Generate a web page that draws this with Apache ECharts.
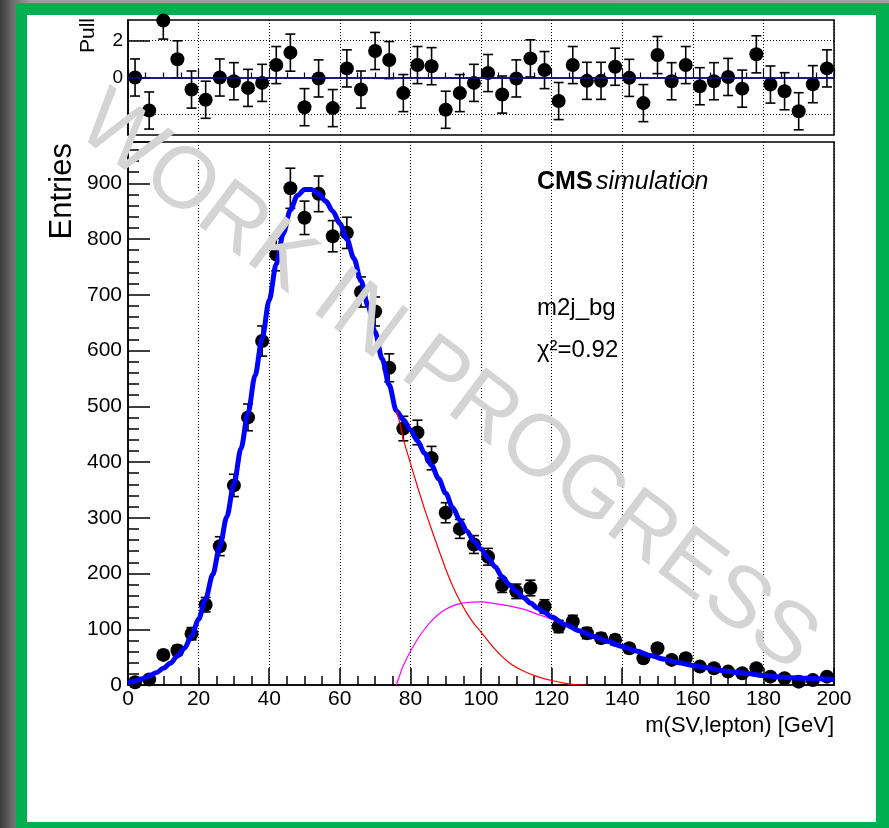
<!DOCTYPE html>
<html>
<head>
<meta charset="utf-8">
<script src="https://cdn.jsdelivr.net/npm/echarts@6/dist/echarts.min.js"></script>
<style>
html,body{margin:0;padding:0;width:889px;height:828px;overflow:hidden;
  background:linear-gradient(to right,#3a3a3a 0px,#6a6a6a 12px,#9c9c9c 30px,#a0a0a0 100%);}
#frame{position:absolute;left:16px;top:3px;width:880px;height:840px;background:#00b050;}
#inner{position:absolute;left:27px;top:15px;width:849px;height:807px;background:#ffffff;}
#chart{position:absolute;left:0;top:0;width:889px;height:828px;}
</style>
</head>
<body>
<div id="frame"></div>
<div id="inner"></div>
<div id="chart"></div>
<script>
// ---- data ----
const binCenters = [2,6,10,14,18,22,26,30,34,38,42,46,50,54,58,62,66,70,74,78,
  82,86,90,94,98,102,106,110,114,118,122,126,130,134,138,142,146,150,154,158,
  162,166,170,174,178,182,186,190,194,198];
const entries = [5,10,54,62,92,144,249,358,480,617,772,891,838,881,805,811,705,670,569,460,
  453,407,309,280,252,230,179,168,174,141,105,114,93,84,81,66,48,66,45,48,
  33,30,24,21,30,15,12,6,9,15];
const entryErrors = [2,4,8,9,11,13,17,20,24,27,29,36,30,32,28,28,27,26,25,22,
  22,21,18,17,16,15,13,13,14,12,11,11,10,9,9,8,7,8,7,7,
  6,6,5,5,6,4,4,3,3,4];
const pulls = [0.0,-1.78,3.07,0.98,-0.65,-1.2,0.0,-0.2,-0.56,-0.29,0.67,1.34,-1.6,-0.05,-1.65,0.49,-0.65,1.43,0.94,-0.84,
  0.67,0.61,-1.74,-0.84,-0.29,0.24,-0.92,-0.05,1.03,0.4,-1.27,0.67,-0.18,-0.18,0.58,-0.02,-1.38,1.21,-0.2,0.67,
  -0.47,-0.2,0.03,-0.6,1.25,-0.38,-0.74,-1.82,-0.36,0.49];
const pullError = 1;

const fitX = [0,2,4,6,8,10,12,14,16,18,20,22,24,26,28,30,32,34,36,38,40,42,44,46,48,50,52,54,56,58,60,62,64,66,68,70,72,74,76,78,80,82,84,86,88,90,92,94,96,98,100,102,104,106,108,110,112,114,116,118,120,124,128,132,136,140,144,148,152,156,160,164,168,172,176,180,184,188,192,196,200];
const fitY = [4,7,11,16,22,30,39,52,66,88,118,155,198,248,302,360,424,488,555,622,690,755,810,852,878,889,889,881,868,850,828,800,765,725,680,633,585,538,492,476,458,438,416,394,370,344,318,296,276,258,244,228,212,194,180,168,157,147,138,130,122,108,97,87,78,69,61,53,46,40,35,31,26,23,20,17,15,13,12,11,10];

const redX = [76,77,78,80,82,84,86,88,90,92,94,96,98,100,104,108,112,116,120,124,126,128,130];
const redY = [492,470,441,398,356,316,279,243,208,177,151,129,110,95,64,40,25,15,8,3,1,0,0];

const magX = [76,77,78,80,82,84,86,88,90,92,94,96,100,104,108,112,116,120,124,128,132,136,140,144,148,152,156,160,164,168,172,176,180,184,188,192,196,200];
const magY = [0,18,35,60,82,100,115,127,136,142,146,148,149,146,142,136,127,118,106,96,87,78,69,61,53,46,40,35,31,26,23,20,17,15,13,12,11,10];

const pullTickValues = [-2,0,2];
const pullLabelValues = [0,2];
const pullRefLines = [-2,2];

// ---- chart ----
const FONT = '"Liberation Sans", Arial, Helvetica, sans-serif';
const DOT = [1,2];
const chart = echarts.init(document.getElementById('chart'), null, {renderer:'canvas'});

function errBar(params, api){
  const x = api.value(0), lo = api.value(1), hi = api.value(2);
  const a = api.coord([x, lo]), b = api.coord([x, hi]);
  const cap = 5;
  const st = {stroke:'#000', lineWidth:1.6};
  return {type:'group', children:[
    {type:'line', shape:{x1:a[0],y1:a[1],x2:b[0],y2:b[1]}, style:st},
    {type:'line', shape:{x1:b[0]-cap,y1:b[1],x2:b[0]+cap,y2:b[1]}, style:st},
    {type:'line', shape:{x1:a[0]-cap,y1:a[1],x2:a[0]+cap,y2:a[1]}, style:st}
  ]};
}

const zip = (xs, ys) => xs.map((x,i)=>[x, ys[i]]);

const axisBlack = {lineStyle:{color:'#000', width:1.5}};
const markerStyle = {color:'#000', opacity:1};

const option = {
  backgroundColor:'transparent',
  animation:false,
  grid:[
    {left:128, top:20, width:706, height:115, show:true, borderColor:'#000', borderWidth:1.5, backgroundColor:'transparent'},
    {left:128, top:142, width:706, height:543, show:true, borderColor:'#000', borderWidth:1.5, backgroundColor:'transparent'}
  ],
  xAxis:[
    {gridIndex:0, type:'value', min:0, max:200, interval:20,
      axisLine:axisBlack,
      axisTick:{inside:true, length:9, lineStyle:{color:'#000', width:1.2}},
      minorTick:{show:true, splitNumber:4, length:5, lineStyle:{color:'#000', width:1.2}},
      axisLabel:{show:false},
      splitLine:{show:true, lineStyle:{type:DOT, color:'#000', width:1}}},
    {gridIndex:1, type:'value', min:0, max:200, interval:20,
      axisLine:axisBlack,
      axisTick:{inside:true, length:17, lineStyle:{color:'#000', width:1.5}},
      minorTick:{show:true, splitNumber:4, length:9, lineStyle:{color:'#000', width:1.5}},
      axisLabel:{fontSize:21, color:'#000', fontFamily:FONT, margin:4},
      splitLine:{show:true, lineStyle:{type:DOT, color:'#000', width:1}}}
  ],
  yAxis:[
    {gridIndex:0, type:'value', min:-3.1, max:3.1,
      axisLine:axisBlack,
      axisTick:{inside:true, length:22, customValues:pullTickValues, lineStyle:{color:'#000', width:1.5}},
      axisLabel:{customValues:pullLabelValues, fontSize:19, color:'#000', fontFamily:FONT, margin:5},
      splitLine:{show:false}},
    {gridIndex:1, type:'value', min:0, max:974, interval:100,
      axisLine:axisBlack,
      axisTick:{inside:true, length:22, lineStyle:{color:'#000', width:1.5}},
      minorTick:{show:true, splitNumber:5, length:11, lineStyle:{color:'#000', width:1.5}},
      axisLabel:{fontSize:21, color:'#000', fontFamily:FONT, margin:6, showMaxLabel:false},
      splitLine:{show:false}}
  ],
  series:[
    // pull panel
    {type:'custom', name:'pullErr', xAxisIndex:0, yAxisIndex:0, clip:true, z:3,
      renderItem:errBar,
      data: binCenters.map((x,i)=>[x, pulls[i]-pullError, pulls[i]+pullError])},
    {type:'scatter', name:'pull', xAxisIndex:0, yAxisIndex:0, z:4,
      symbol:'circle', symbolSize:14, itemStyle:markerStyle,
      data: zip(binCenters, pulls),
      markLine:{silent:true, symbol:'none', label:{show:false}, animation:false,
        data:[
          {yAxis:0, lineStyle:{color:'#10108a', width:1.6, type:'solid'}},
          ...pullRefLines.map(v=>({yAxis:v, lineStyle:{color:'#000', width:1, type:DOT}}))
        ]}},
    // main panel
    {type:'custom', name:'entryErr', xAxisIndex:1, yAxisIndex:1, z:3,
      renderItem:errBar,
      data: binCenters.map((x,i)=>[x, entries[i]-entryErrors[i], entries[i]+entryErrors[i]])},
    {type:'scatter', name:'Entries', xAxisIndex:1, yAxisIndex:1, z:4,
      symbol:'circle', symbolSize:14, itemStyle:markerStyle,
      data: zip(binCenters, entries)},
    {type:'line', name:'bg2', xAxisIndex:1, yAxisIndex:1, z:5, smooth:0.3, showSymbol:false,
      lineStyle:{color:'#ff00ff', width:1.2}, data: zip(magX, magY)},
    {type:'line', name:'fit', xAxisIndex:1, yAxisIndex:1, z:6, smooth:0.3, smoothMonotone:'x', showSymbol:false,
      lineStyle:{color:'#0000ff', width:5}, data: zip(fitX, fitY)},
    {type:'line', name:'bg1', xAxisIndex:1, yAxisIndex:1, z:7, smooth:0.3, showSymbol:false,
      lineStyle:{color:'#ff0000', width:1.2}, data: zip(redX, redY)}
  ],
  graphic:[
    {type:'text', x:62, y:143, rotation:Math.PI/2, z:50,
      style:{text:'Entries', font:'31px ' + FONT, fill:'#000', align:'right', verticalAlign:'middle'}},
    {type:'text', x:88, y:18, rotation:Math.PI/2, z:50,
      style:{text:'Pull', font:'21px ' + FONT, fill:'#000', align:'right', verticalAlign:'middle'}},
    {type:'text', x:834, y:726, z:50,
      style:{text:'m(SV,lepton) [GeV]', font:'22px ' + FONT, fill:'#000', align:'right', verticalAlign:'middle'}},
    {type:'text', x:537, y:182, z:50,
      style:{text:'{b|CMS} {i|simulation}', align:'left', verticalAlign:'middle', fill:'#000',
        rich:{b:{fontWeight:'bold', fontSize:25, fontFamily:FONT, fill:'#000'},
              i:{fontStyle:'italic', fontSize:25, fontFamily:FONT, fill:'#000'}}}},
    {type:'text', x:537, y:308, z:50,
      style:{text:'m2j_bg', font:'24px ' + FONT, fill:'#000', align:'left', verticalAlign:'middle'}},
    {type:'text', x:537, y:350, z:50,
      style:{text:'χ²=0.92', font:'24px ' + FONT, fill:'#000', align:'left', verticalAlign:'middle'}},
    {type:'text', x:447, y:383, rotation:-37*Math.PI/180, z:100,
      style:{text:'WORK IN PROGRESS', font:'87px ' + FONT, fill:'#d4d4d4', align:'center', verticalAlign:'middle'}}
  ]
};
chart.setOption(option);
</script>
</body>
</html>
